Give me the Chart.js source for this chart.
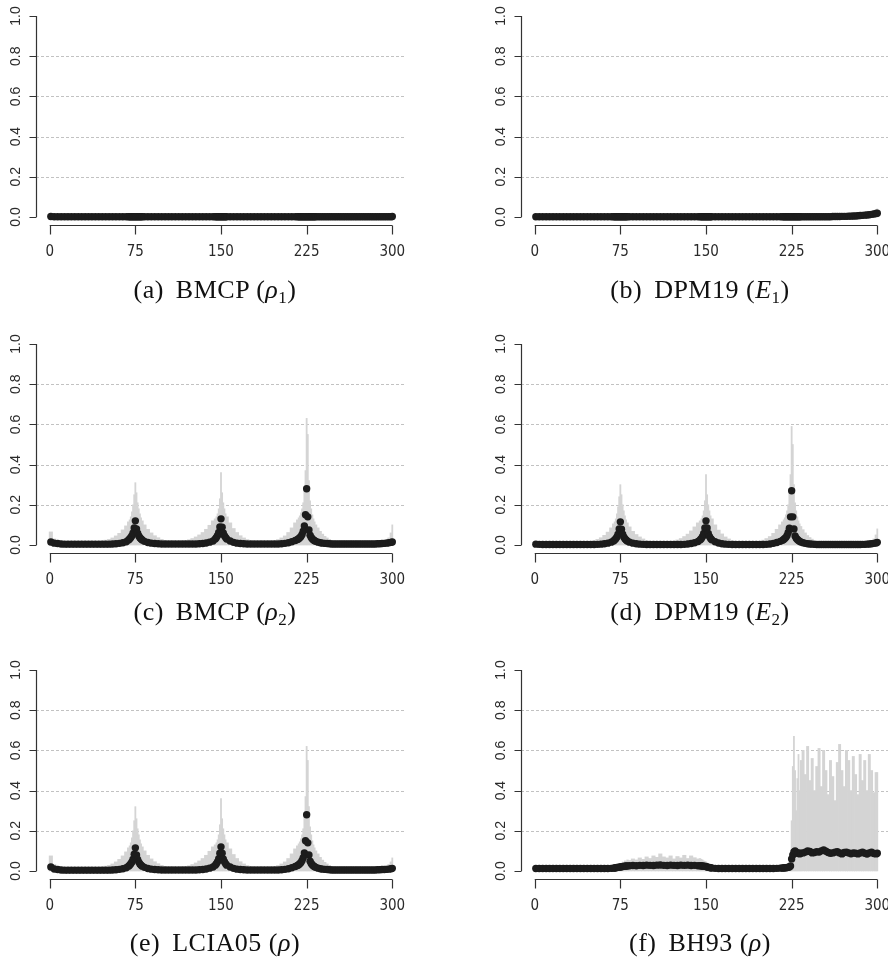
<!doctype html>
<html>
  <head>
    <title>Changepoint probabilities</title>
    <script src="https://cdn.jsdelivr.net/npm/chart.js"></script>
    <style>
      body {
        margin: 0;
        background: #fff;
        overflow: hidden;
      }
      #page {
        position: relative;
        width: 888px;
        height: 966px;
        overflow: hidden;
      }
      .panel {
        position: absolute;
      }
      .caption {
        position: absolute;
        transform: translate(-50%, -50%);
        font-family: 'Liberation Serif', serif;
        font-size: 26px;
        letter-spacing: 0.5px;
        color: #111;
        white-space: nowrap;
      }
      .caption sub {
        font-size: 17px;
        vertical-align: -5px;
        line-height: 0;
      }
      .caption .tag {
        margin-right: 12px;
      }
    </style>
  </head>
  <body>
    <div id="page"></div>

    <script>
      // observation index of every plotted mark (denser around the changepoints)
      const positions = [
        1, 4, 7, 10, 13, 16, 19, 22, 25, 28, 31, 34, 37, 40, 43, 46, 49, 52, 55, 58, 61, 64, 67,
        69, 70, 71, 72, 73, 74, 75, 76, 77, 78, 79, 80, 81,
        83, 86, 89, 92, 95, 98, 101, 104, 107, 110, 113, 116, 119, 122, 125, 128, 131, 134, 137, 140, 143,
        145, 146, 147, 148, 149, 150, 151, 152, 153, 154, 155,
        158, 161, 164, 167, 170, 173, 176, 179, 182, 185, 188, 191, 194, 197, 200, 203, 206, 209, 212, 215,
        217, 218, 219, 220, 221, 222, 223, 224, 225, 226, 227, 228, 229, 230, 231, 232, 233,
        235, 237, 239, 241, 243, 245, 247, 249, 251, 253, 255, 257, 259, 261, 263, 265, 267, 269, 271, 273, 275, 277, 279, 281, 283, 285, 287, 289, 291, 293, 295, 297, 299,
        300,
      ];

      const xTicks = [0, 75, 150, 225, 300];
      const yTicks = [0, 0.2, 0.4, 0.6, 0.8, 1];
      const yTickLabels = ['0.0', '0.2', '0.4', '0.6', '0.8', '1.0'];
      const gridLevels = [0.2, 0.4, 0.6, 0.8];

      // (a) BMCP rho1
      const meanA = [
        0.002, 0.001, 0.001, 0.001, 0.001, 0.001, 0.001, 0.001, 0.001, 0.001, 0.001, 0.001, 0.001, 0.001, 0.001, 0.001, 0.001, 0.001, 0.001, 0.001, 0.001, 0.001, 0.001,
        0.001, 0.001, 0.001, 0.001, 0.001, 0.001, 0.001, 0.001, 0.001, 0.001, 0.001, 0.001, 0.001,
        0.001, 0.001, 0.001, 0.001, 0.001, 0.001, 0.001, 0.001, 0.001, 0.001, 0.001, 0.001, 0.001, 0.001, 0.001, 0.001, 0.001, 0.001, 0.001, 0.001, 0.001,
        0.001, 0.001, 0.001, 0.001, 0.001, 0.001, 0.001, 0.001, 0.001, 0.001, 0.001,
        0.001, 0.001, 0.001, 0.001, 0.001, 0.001, 0.001, 0.001, 0.001, 0.001, 0.001, 0.001, 0.001, 0.001, 0.001, 0.001, 0.001, 0.001, 0.001, 0.001,
        0.001, 0.001, 0.001, 0.001, 0.001, 0.001, 0.001, 0.001, 0.001, 0.001, 0.001, 0.001, 0.001, 0.001, 0.001, 0.001, 0.001,
        0.001, 0.001, 0.001, 0.001, 0.001, 0.001, 0.001, 0.001, 0.001, 0.001, 0.001, 0.001, 0.001, 0.001, 0.001, 0.001, 0.001, 0.001, 0.001, 0.001, 0.001, 0.001, 0.001, 0.001, 0.001, 0.001, 0.001, 0.001, 0.001, 0.001, 0.001, 0.001, 0.001,
        0.002,
      ];
      const upperA = [
        0.004, 0.003, 0.003, 0.003, 0.003, 0.003, 0.003, 0.003, 0.003, 0.003, 0.003, 0.003, 0.003, 0.003, 0.003, 0.003, 0.003, 0.003, 0.003, 0.003, 0.003, 0.003, 0.003,
        0.003, 0.003, 0.003, 0.003, 0.003, 0.003, 0.003, 0.003, 0.003, 0.003, 0.003, 0.003, 0.003,
        0.003, 0.003, 0.003, 0.003, 0.003, 0.003, 0.003, 0.003, 0.003, 0.003, 0.003, 0.003, 0.003, 0.003, 0.003, 0.003, 0.003, 0.003, 0.003, 0.003, 0.003,
        0.003, 0.003, 0.003, 0.003, 0.003, 0.003, 0.003, 0.003, 0.003, 0.003, 0.003,
        0.003, 0.003, 0.003, 0.003, 0.003, 0.003, 0.003, 0.003, 0.003, 0.003, 0.003, 0.003, 0.003, 0.003, 0.003, 0.003, 0.003, 0.003, 0.003, 0.003,
        0.003, 0.003, 0.003, 0.003, 0.003, 0.003, 0.003, 0.003, 0.003, 0.003, 0.003, 0.003, 0.003, 0.003, 0.003, 0.003, 0.003,
        0.003, 0.003, 0.003, 0.003, 0.003, 0.003, 0.003, 0.003, 0.003, 0.003, 0.003, 0.003, 0.003, 0.003, 0.003, 0.003, 0.003, 0.003, 0.003, 0.003, 0.003, 0.003, 0.003, 0.003, 0.003, 0.003, 0.003, 0.003, 0.003, 0.003, 0.003, 0.003, 0.004,
        0.004,
      ];

      // (b) DPM19 E1
      const meanB = [
        0.001, 0.001, 0.001, 0.001, 0.001, 0.001, 0.001, 0.001, 0.001, 0.001, 0.001, 0.001, 0.001, 0.001, 0.001, 0.001, 0.001, 0.001, 0.001, 0.001, 0.001, 0.001, 0.001,
        0.001, 0.001, 0.001, 0.001, 0.001, 0.001, 0.001, 0.001, 0.001, 0.001, 0.001, 0.001, 0.001,
        0.001, 0.001, 0.001, 0.001, 0.001, 0.001, 0.001, 0.001, 0.001, 0.001, 0.001, 0.001, 0.001, 0.001, 0.001, 0.001, 0.001, 0.001, 0.001, 0.001, 0.001,
        0.001, 0.001, 0.001, 0.001, 0.001, 0.001, 0.001, 0.001, 0.001, 0.001, 0.001,
        0.001, 0.001, 0.001, 0.001, 0.001, 0.001, 0.001, 0.001, 0.001, 0.001, 0.001, 0.001, 0.001, 0.001, 0.001, 0.001, 0.001, 0.001, 0.001, 0.001,
        0.001, 0.001, 0.001, 0.001, 0.001, 0.001, 0.001, 0.001, 0.001, 0.001, 0.001, 0.001, 0.001, 0.001, 0.001, 0.001, 0.001,
        0.001, 0.001, 0.001, 0.001, 0.001, 0.001, 0.001, 0.001, 0.001, 0.001, 0.001, 0.001, 0.001, 0.002, 0.002, 0.002, 0.002, 0.003, 0.003, 0.003, 0.004, 0.004, 0.005, 0.005, 0.006, 0.007, 0.008, 0.009, 0.01, 0.011, 0.013, 0.015, 0.017,
        0.019,
      ];
      const upperB = [
        0.003, 0.003, 0.003, 0.003, 0.003, 0.003, 0.003, 0.003, 0.003, 0.003, 0.003, 0.003, 0.003, 0.003, 0.003, 0.003, 0.003, 0.003, 0.003, 0.003, 0.003, 0.003, 0.003,
        0.003, 0.003, 0.003, 0.003, 0.003, 0.003, 0.003, 0.003, 0.003, 0.003, 0.003, 0.003, 0.003,
        0.003, 0.003, 0.003, 0.003, 0.003, 0.003, 0.003, 0.003, 0.003, 0.003, 0.003, 0.003, 0.003, 0.003, 0.003, 0.003, 0.003, 0.003, 0.003, 0.003, 0.003,
        0.003, 0.003, 0.003, 0.003, 0.003, 0.003, 0.003, 0.003, 0.003, 0.003, 0.003,
        0.003, 0.003, 0.003, 0.003, 0.003, 0.003, 0.003, 0.003, 0.003, 0.003, 0.003, 0.003, 0.003, 0.003, 0.003, 0.003, 0.003, 0.003, 0.003, 0.003,
        0.003, 0.003, 0.003, 0.003, 0.003, 0.003, 0.003, 0.003, 0.003, 0.003, 0.003, 0.003, 0.003, 0.003, 0.003, 0.003, 0.003,
        0.004, 0.004, 0.004, 0.004, 0.004, 0.004, 0.004, 0.004, 0.004, 0.004, 0.004, 0.004, 0.004, 0.005, 0.005, 0.005, 0.005, 0.006, 0.006, 0.006, 0.008, 0.008, 0.01, 0.01, 0.012, 0.014, 0.016, 0.018, 0.021, 0.024, 0.028, 0.032, 0.036,
        0.04,
      ];

      // (c) BMCP rho2
      const meanC = [
        0.015, 0.009, 0.007, 0.005, 0.004, 0.004, 0.004, 0.004, 0.004, 0.004, 0.004, 0.004, 0.004, 0.004, 0.004, 0.004, 0.004, 0.004, 0.005, 0.006, 0.008, 0.011, 0.016,
        0.025, 0.03, 0.037, 0.046, 0.06, 0.085, 0.12, 0.08, 0.058, 0.045, 0.036, 0.03, 0.025,
        0.018, 0.012, 0.009, 0.007, 0.006, 0.005, 0.005, 0.005, 0.005, 0.005, 0.005, 0.005, 0.005, 0.005, 0.005, 0.005, 0.006, 0.007, 0.01, 0.014, 0.02,
        0.03, 0.037, 0.047, 0.062, 0.09, 0.13, 0.088, 0.06, 0.046, 0.037, 0.03,
        0.02, 0.013, 0.009, 0.007, 0.006, 0.005, 0.005, 0.005, 0.005, 0.005, 0.005, 0.005, 0.005, 0.005, 0.005, 0.006, 0.008, 0.011, 0.016, 0.022,
        0.027, 0.031, 0.036, 0.042, 0.052, 0.068, 0.095, 0.15, 0.28, 0.14, 0.075, 0.048, 0.037, 0.03, 0.025, 0.021, 0.018,
        0.014, 0.011, 0.009, 0.008, 0.007, 0.006, 0.005, 0.005, 0.005, 0.005, 0.005, 0.005, 0.005, 0.005, 0.005, 0.005, 0.005, 0.005, 0.005, 0.005, 0.005, 0.005, 0.005, 0.005, 0.005, 0.005, 0.006, 0.006, 0.007, 0.008, 0.009, 0.011, 0.013,
        0.015,
      ];
      const upperC = [
        0.065, 0.03, 0.02, 0.016, 0.015, 0.015, 0.015, 0.015, 0.015, 0.015, 0.015, 0.015, 0.015, 0.016, 0.018, 0.02, 0.024, 0.028, 0.035, 0.045, 0.058, 0.075, 0.095,
        0.115, 0.125, 0.14, 0.165, 0.2, 0.25, 0.31, 0.26, 0.21, 0.18, 0.155, 0.135, 0.12,
        0.1, 0.078, 0.06, 0.046, 0.036, 0.028, 0.022, 0.018, 0.016, 0.016, 0.017, 0.019, 0.022, 0.026, 0.032, 0.04, 0.05, 0.062, 0.078, 0.098, 0.12,
        0.13, 0.14, 0.155, 0.18, 0.23, 0.36, 0.26, 0.21, 0.18, 0.155, 0.14,
        0.11, 0.082, 0.062, 0.046, 0.035, 0.027, 0.021, 0.017, 0.015, 0.015, 0.015, 0.016, 0.018, 0.022, 0.027, 0.035, 0.045, 0.062, 0.085, 0.11,
        0.125, 0.135, 0.145, 0.16, 0.18, 0.21, 0.27, 0.37, 0.63, 0.55, 0.32, 0.22, 0.18, 0.15, 0.13, 0.115, 0.1,
        0.085, 0.068, 0.054, 0.043, 0.035, 0.028, 0.023, 0.019, 0.016, 0.015, 0.015, 0.015, 0.015, 0.015, 0.015, 0.015, 0.015, 0.015, 0.015, 0.015, 0.015, 0.015, 0.015, 0.015, 0.015, 0.016, 0.017, 0.019, 0.021, 0.024, 0.028, 0.035, 0.06,
        0.1,
      ];

      // (d) DPM19 E2
      const meanD = [
        0.004, 0.003, 0.002, 0.002, 0.002, 0.002, 0.002, 0.002, 0.002, 0.002, 0.002, 0.002, 0.002, 0.002, 0.002, 0.002, 0.002, 0.002, 0.003, 0.004, 0.006, 0.009, 0.014,
        0.02, 0.025, 0.031, 0.04, 0.054, 0.08, 0.115, 0.078, 0.054, 0.04, 0.031, 0.025, 0.02,
        0.014, 0.009, 0.006, 0.004, 0.003, 0.002, 0.002, 0.002, 0.002, 0.002, 0.002, 0.002, 0.002, 0.002, 0.002, 0.002, 0.003, 0.005, 0.007, 0.011, 0.017,
        0.026, 0.032, 0.042, 0.057, 0.085, 0.12, 0.085, 0.057, 0.042, 0.032, 0.026,
        0.016, 0.01, 0.006, 0.004, 0.003, 0.002, 0.002, 0.002, 0.002, 0.002, 0.002, 0.002, 0.002, 0.002, 0.002, 0.003, 0.005, 0.008, 0.012, 0.018,
        0.023, 0.027, 0.032, 0.038, 0.047, 0.062, 0.083, 0.14, 0.27, 0.14, 0.08, 0.045, 0.034, 0.027, 0.022, 0.018, 0.015,
        0.011, 0.008, 0.006, 0.005, 0.004, 0.003, 0.002, 0.002, 0.002, 0.002, 0.002, 0.002, 0.002, 0.002, 0.002, 0.002, 0.002, 0.002, 0.002, 0.002, 0.002, 0.002, 0.002, 0.002, 0.002, 0.002, 0.003, 0.003, 0.004, 0.005, 0.006, 0.008, 0.01,
        0.013,
      ];
      const upperD = [
        0.01, 0.008, 0.007, 0.006, 0.005, 0.005, 0.005, 0.005, 0.005, 0.005, 0.005, 0.005, 0.006, 0.008, 0.01, 0.013, 0.017, 0.022, 0.028, 0.036, 0.048, 0.064, 0.085,
        0.105, 0.115, 0.13, 0.155, 0.19, 0.24, 0.3, 0.25, 0.2, 0.17, 0.145, 0.125, 0.11,
        0.09, 0.068, 0.052, 0.04, 0.03, 0.022, 0.016, 0.012, 0.01, 0.009, 0.01, 0.012, 0.015, 0.019, 0.025, 0.032, 0.042, 0.054, 0.07, 0.09, 0.11,
        0.12, 0.13, 0.145, 0.17, 0.22, 0.35, 0.25, 0.2, 0.17, 0.145, 0.13,
        0.1, 0.074, 0.055, 0.04, 0.03, 0.022, 0.016, 0.012, 0.009, 0.008, 0.009, 0.011, 0.014, 0.018, 0.024, 0.032, 0.042, 0.058, 0.078, 0.1,
        0.115, 0.125, 0.135, 0.15, 0.17, 0.2, 0.26, 0.35, 0.59, 0.5, 0.3, 0.21, 0.17, 0.14, 0.12, 0.105, 0.092,
        0.076, 0.06, 0.047, 0.037, 0.029, 0.023, 0.018, 0.014, 0.011, 0.009, 0.008, 0.008, 0.008, 0.008, 0.008, 0.008, 0.008, 0.008, 0.008, 0.008, 0.008, 0.008, 0.008, 0.008, 0.008, 0.009, 0.01, 0.012, 0.014, 0.017, 0.022, 0.03, 0.05,
        0.08,
      ];

      // (e) LCIA05 rho
      const meanE = [
        0.02, 0.01, 0.007, 0.005, 0.004, 0.004, 0.004, 0.004, 0.004, 0.004, 0.004, 0.004, 0.004, 0.004, 0.004, 0.004, 0.004, 0.004, 0.005, 0.006, 0.008, 0.011, 0.016,
        0.024, 0.029, 0.036, 0.045, 0.058, 0.083, 0.115, 0.08, 0.057, 0.044, 0.035, 0.029, 0.024,
        0.018, 0.012, 0.009, 0.007, 0.006, 0.005, 0.005, 0.005, 0.005, 0.005, 0.005, 0.005, 0.005, 0.005, 0.005, 0.005, 0.006, 0.007, 0.01, 0.014, 0.02,
        0.029, 0.036, 0.046, 0.061, 0.088, 0.12, 0.088, 0.06, 0.046, 0.036, 0.029,
        0.02, 0.013, 0.009, 0.007, 0.006, 0.005, 0.005, 0.005, 0.005, 0.005, 0.005, 0.005, 0.005, 0.005, 0.005, 0.006, 0.008, 0.011, 0.016, 0.022,
        0.027, 0.031, 0.036, 0.042, 0.052, 0.066, 0.09, 0.15, 0.28, 0.14, 0.08, 0.048, 0.037, 0.03, 0.025, 0.021, 0.018,
        0.014, 0.011, 0.009, 0.008, 0.007, 0.006, 0.005, 0.005, 0.005, 0.005, 0.005, 0.005, 0.005, 0.005, 0.005, 0.005, 0.005, 0.005, 0.005, 0.005, 0.005, 0.005, 0.005, 0.005, 0.005, 0.005, 0.006, 0.006, 0.007, 0.007, 0.008, 0.009, 0.011,
        0.013,
      ];
      const upperE = [
        0.075, 0.032, 0.021, 0.016, 0.015, 0.015, 0.015, 0.015, 0.015, 0.015, 0.015, 0.015, 0.015, 0.016, 0.018, 0.02, 0.024, 0.028, 0.035, 0.045, 0.058, 0.075, 0.095,
        0.115, 0.125, 0.14, 0.165, 0.2, 0.25, 0.32, 0.26, 0.21, 0.18, 0.155, 0.135, 0.12,
        0.1, 0.078, 0.06, 0.046, 0.036, 0.028, 0.022, 0.018, 0.016, 0.016, 0.017, 0.019, 0.022, 0.026, 0.032, 0.04, 0.05, 0.062, 0.078, 0.098, 0.12,
        0.13, 0.14, 0.155, 0.18, 0.23, 0.36, 0.26, 0.21, 0.18, 0.155, 0.14,
        0.11, 0.082, 0.062, 0.046, 0.035, 0.027, 0.021, 0.017, 0.015, 0.015, 0.015, 0.016, 0.018, 0.022, 0.027, 0.035, 0.045, 0.062, 0.085, 0.11,
        0.125, 0.135, 0.145, 0.16, 0.18, 0.21, 0.27, 0.37, 0.62, 0.55, 0.32, 0.22, 0.18, 0.15, 0.13, 0.115, 0.1,
        0.085, 0.068, 0.054, 0.043, 0.035, 0.028, 0.023, 0.019, 0.016, 0.015, 0.015, 0.015, 0.015, 0.015, 0.015, 0.015, 0.015, 0.015, 0.015, 0.015, 0.015, 0.015, 0.015, 0.015, 0.015, 0.016, 0.017, 0.018, 0.02, 0.022, 0.026, 0.032, 0.045,
        0.065,
      ];

      // (f) BH93 rho
      const meanF = [
        0.012, 0.012, 0.012, 0.012, 0.012, 0.012, 0.012, 0.012, 0.012, 0.012, 0.012, 0.012, 0.012, 0.012, 0.012, 0.012, 0.012, 0.012, 0.012, 0.012, 0.012, 0.012, 0.013,
        0.014, 0.015, 0.016, 0.017, 0.018, 0.019, 0.02, 0.021, 0.022, 0.023, 0.024, 0.025, 0.025,
        0.026, 0.027, 0.026, 0.028, 0.027, 0.029, 0.028, 0.027, 0.029, 0.03, 0.028, 0.027, 0.029, 0.028, 0.027, 0.029, 0.028, 0.029, 0.027, 0.028, 0.026,
        0.026, 0.025, 0.025, 0.024, 0.023, 0.022, 0.02, 0.018, 0.017, 0.016, 0.015,
        0.013, 0.012, 0.012, 0.012, 0.012, 0.012, 0.012, 0.012, 0.012, 0.012, 0.012, 0.012, 0.012, 0.012, 0.012, 0.012, 0.012, 0.012, 0.013, 0.014,
        0.015, 0.015, 0.016, 0.016, 0.017, 0.018, 0.02, 0.025, 0.06, 0.08, 0.095, 0.1, 0.092, 0.088, 0.09, 0.085, 0.088,
        0.09, 0.094, 0.1, 0.097, 0.09, 0.092, 0.096, 0.094, 0.1, 0.104, 0.098, 0.092, 0.088, 0.09, 0.094, 0.096, 0.09, 0.085, 0.092, 0.094, 0.09, 0.086, 0.09, 0.088, 0.085, 0.09, 0.094, 0.088, 0.084, 0.09, 0.093, 0.087, 0.085,
        0.088,
      ];
      const upperF = [
        0.016, 0.016, 0.016, 0.016, 0.016, 0.016, 0.016, 0.016, 0.016, 0.016, 0.016, 0.016, 0.016, 0.016, 0.016, 0.016, 0.016, 0.016, 0.016, 0.016, 0.016, 0.016, 0.017,
        0.018, 0.02, 0.022, 0.025, 0.028, 0.03, 0.033, 0.038, 0.045, 0.04, 0.05, 0.048, 0.055,
        0.052, 0.06, 0.055, 0.065, 0.058, 0.07, 0.062, 0.075, 0.068, 0.085, 0.07, 0.065, 0.075, 0.06, 0.072, 0.065, 0.078, 0.062, 0.075, 0.066, 0.06,
        0.062, 0.058, 0.055, 0.05, 0.048, 0.045, 0.04, 0.032, 0.028, 0.025, 0.022,
        0.018, 0.016, 0.016, 0.016, 0.016, 0.016, 0.016, 0.016, 0.016, 0.016, 0.016, 0.016, 0.016, 0.016, 0.016, 0.016, 0.016, 0.016, 0.017, 0.018,
        0.019, 0.02, 0.021, 0.022, 0.024, 0.027, 0.03, 0.05, 0.25, 0.52, 0.67, 0.5, 0.3, 0.46, 0.58, 0.4, 0.55,
        0.6, 0.48, 0.62, 0.45, 0.56, 0.4, 0.52, 0.61, 0.42, 0.6, 0.5, 0.38, 0.55, 0.47, 0.35, 0.54, 0.63, 0.5, 0.42, 0.6, 0.55, 0.4, 0.57, 0.48, 0.38, 0.58, 0.45, 0.55, 0.4, 0.58, 0.5, 0.39, 0.49,
        0.49,
      ];

      // draws the R-style axes: dashed grid, detached axis lines, rotated y labels
      const rAxes = {
        id: 'rAxes',
        beforeDatasetsDraw(chart) {
          const { ctx, chartArea: area, scales } = chart;
          ctx.save();
          ctx.strokeStyle = '#c2c2c2';
          ctx.lineWidth = 1;
          ctx.setLineDash([3, 2]);
          gridLevels.forEach((v) => {
            const py = Math.round(scales.y.getPixelForValue(v)) + 0.5;
            ctx.beginPath();
            ctx.moveTo(area.left, py);
            ctx.lineTo(area.right, py);
            ctx.stroke();
          });
          ctx.restore();
        },
        afterDatasetsDraw(chart) {
          const { ctx, chartArea: area, scales } = chart;
          const { x, y } = scales;
          ctx.save();
          ctx.strokeStyle = '#333';
          ctx.fillStyle = '#2a2a2a';
          ctx.lineWidth = 1.2;

          // y axis
          const ax = Math.round(area.left) + 0.5;
          ctx.beginPath();
          ctx.moveTo(ax, y.getPixelForValue(yTicks[0]));
          ctx.lineTo(ax, y.getPixelForValue(yTicks[yTicks.length - 1]));
          yTicks.forEach((v) => {
            const py = Math.round(y.getPixelForValue(v)) + 0.5;
            ctx.moveTo(ax, py);
            ctx.lineTo(ax - 7, py);
          });
          ctx.stroke();
          ctx.font = '14px "Liberation Sans", Arial, sans-serif';
          ctx.textAlign = 'center';
          ctx.textBaseline = 'middle';
          yTicks.forEach((v, i) => {
            ctx.save();
            ctx.translate(ax - 20, y.getPixelForValue(v));
            ctx.rotate(-Math.PI / 2);
            ctx.fillText(yTickLabels[i], 0, 0);
            ctx.restore();
          });

          // x axis
          const ay = Math.round(area.bottom) + 0.5;
          ctx.beginPath();
          ctx.moveTo(x.getPixelForValue(xTicks[0]), ay);
          ctx.lineTo(x.getPixelForValue(xTicks[xTicks.length - 1]), ay);
          xTicks.forEach((v) => {
            const px = Math.round(x.getPixelForValue(v)) + 0.5;
            ctx.moveTo(px, ay);
            ctx.lineTo(px, ay + 9);
          });
          ctx.stroke();
          ctx.font = '15px "Liberation Sans Narrow", "DejaVu Sans Condensed", sans-serif';
          xTicks.forEach((v) => {
            ctx.fillText(String(v), x.getPixelForValue(v), ay + 27);
          });
          ctx.restore();
        },
      };

      const panels = [
        { left: 0, top: 0, side: 'L', mean: meanA, upper: upperA, capY: 290, caption: '<span class="tag">(a)</span>BMCP (<i>ρ</i><sub>1</sub>)' },
        { left: 444, top: 0, side: 'R', mean: meanB, upper: upperB, capY: 290, caption: '<span class="tag">(b)</span>DPM19 (<i>E</i><sub>1</sub>)' },
        { left: 0, top: 328, side: 'L', mean: meanC, upper: upperC, capY: 612, caption: '<span class="tag">(c)</span>BMCP (<i>ρ</i><sub>2</sub>)' },
        { left: 444, top: 328, side: 'R', mean: meanD, upper: upperD, capY: 612, caption: '<span class="tag">(d)</span>DPM19 (<i>E</i><sub>2</sub>)' },
        { left: 0, top: 654, side: 'L', mean: meanE, upper: upperE, capY: 943, caption: '<span class="tag">(e)</span>LCIA05 (<i>ρ</i>)' },
        { left: 444, top: 654, side: 'R', mean: meanF, upper: upperF, capY: 943, caption: '<span class="tag">(f)</span>BH93 (<i>ρ</i>)' },
      ];

      const page = document.getElementById('page');

      panels.forEach((p) => {
        const width = p.side === 'L' ? 444 : 460;
        const padding =
          p.side === 'L'
            ? { left: 36, right: 38, top: 8, bottom: 75 }
            : { left: 77, right: 13, top: 8, bottom: 75 };

        const box = document.createElement('div');
        box.className = 'panel';
        box.style.left = p.left + 'px';
        box.style.top = p.top + 'px';
        const canvas = document.createElement('canvas');
        canvas.width = width;
        canvas.height = 300;
        box.appendChild(canvas);
        page.appendChild(box);

        const cap = document.createElement('div');
        cap.className = 'caption';
        cap.style.left = (p.side === 'L' ? 215 : 700) + 'px';
        cap.style.top = p.capY + 'px';
        cap.innerHTML = p.caption;
        page.appendChild(cap);

        new Chart(canvas.getContext('2d'), {
          type: 'bar',
          data: {
            labels: positions,
            datasets: [
              {
                type: 'line',
                data: p.mean,
                showLine: false,
                pointRadius: 3.7,
                pointBackgroundColor: '#1c1c1c',
                pointBorderWidth: 0,
                order: 1,
              },
              {
                type: 'bar',
                data: p.upper,
                backgroundColor: '#d4d4d4',
                barThickness: 'flex',
                categoryPercentage: 1,
                barPercentage: 1,
                order: 2,
              },
            ],
          },
          options: {
            responsive: false,
            animation: false,
            devicePixelRatio: 1,
            layout: { padding },
            plugins: {
              legend: { display: false },
              tooltip: { enabled: false },
            },
            scales: {
              x: { type: 'linear', min: -12, max: 312, offset: false, display: false },
              y: { min: -0.04, max: 1.04, display: false },
            },
          },
          plugins: [rAxes],
        });
      });
    </script>
  </body>
</html>
